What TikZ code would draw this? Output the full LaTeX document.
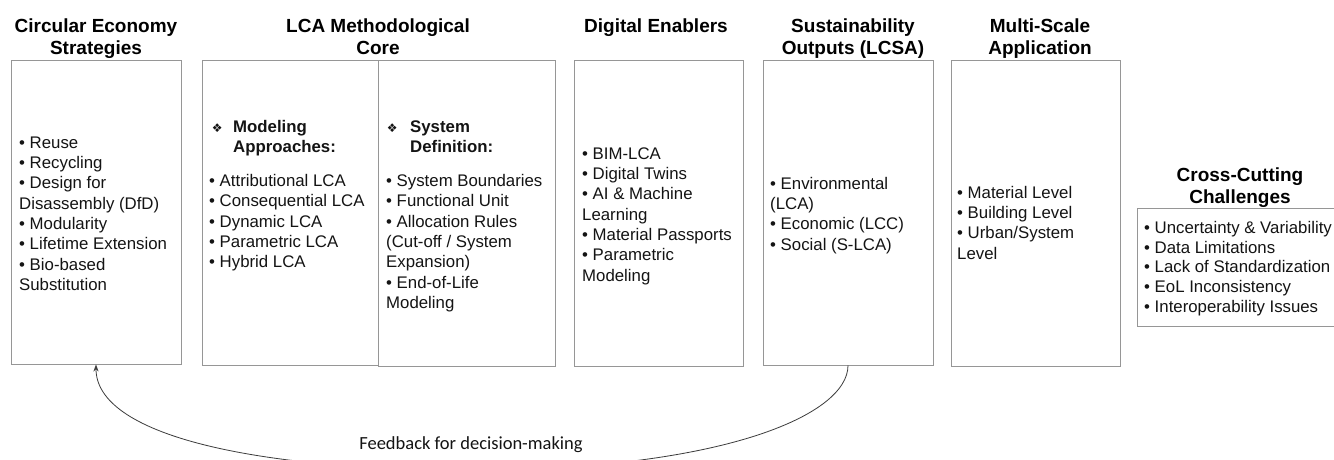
\documentclass[tikz,border=0pt]{standalone}
\usepackage{fontspec}
\setmainfont{Liberation Sans}
\newfontfamily\carlito{Carlito}
\newfontfamily\dejavu{DejaVu Sans}
\usetikzlibrary{arrows.meta}
\definecolor{boxgray}{RGB}{150,150,150}
\definecolor{txt}{RGB}{20,20,20}
\definecolor{arr}{RGB}{60,60,60}
\newcommand\bodystrut{\rule{0pt}{12pt}}
\newcommand\titlestrut{\rule{0pt}{14pt}}
\newcommand\dia{{\dejavu\fontsize{12}{12}\selectfont ❖}}
\tikzset{
 panel/.style={draw=boxgray, line width=0.9pt, inner sep=0pt},
 title/.style={font=\fontsize{19}{22}\selectfont\bfseries, align=center, anchor=north, inner sep=0pt},
 items/.style={font=\fontsize{16.8}{20.3}\selectfont, align=left, anchor=north west, inner sep=0pt, text=txt},
 citems/.style={items, font=\fontsize{16.8}{19.8}\selectfont},
 fb/.style={draw=arr, line width=0.8pt, -{Stealth[length=7pt,width=5pt]}},
 fbl/.style={font=\carlito\fontsize{18.5}{20}\selectfont, inner sep=0pt, text=txt},
}
\begin{document}
\begin{tikzpicture}[x=1pt,y=-1pt]
\useasboundingbox (0,0) rectangle (1334,460);
\clip (0,0) rectangle (1334,460);
\fill[white] (0,0) rectangle (1334,460);

% panels
\node[panel, minimum width=170pt, minimum height=304pt] (b1) at (96,212) {};
\node[panel, minimum width=176pt, minimum height=305pt] (b2a) at (290,212.5) {};
\node[panel, minimum width=177pt, minimum height=306pt] (b2b) at (466.5,213) {};
\node[panel, minimum width=169pt, minimum height=306pt] (b3) at (658.5,213) {};
\node[panel, minimum width=170pt, minimum height=305pt] (b4) at (848,212.5) {};
\node[panel, minimum width=169pt, minimum height=306pt] (b5) at (1035.5,213) {};
\node[panel, minimum width=208pt, minimum height=118pt] (b6) at (1241,267) {};

% titles
\node[title] (t1) at (96,18) {\titlestrut Circular Economy\\Strategies};
\node[title] (t2) at (378,18) {\titlestrut LCA Methodological\\Core};
\node[title] (t3) at (656,18) {\titlestrut Digital Enablers};
\node[title] (t4) at (853,18) {\titlestrut Sustainability\\Outputs (LCSA)};
\node[title] (t5) at (1040,18) {\titlestrut Multi-Scale\\Application};
\node[title] (t6) at (1240,167) {\titlestrut Cross-Cutting\\Challenges};

% contents
\node[items] (i1) at (19,136) {\bodystrut • Reuse\\• Recycling\\• Design for\\Disassembly (DfD)\\• Modularity\\• Lifetime Extension\\• Bio-based\\Substitution};
\node[items] (i2) at (209,120) {\bodystrut\makebox[16pt]{\dia}\hspace{8pt}\textbf{Modeling}\\\hspace{24pt}\textbf{Approaches:}\\[13.7pt]• Attributional LCA\\• Consequential LCA\\• Dynamic LCA\\• Parametric LCA\\• Hybrid LCA};
\node[items] (i3) at (386,120) {\bodystrut\makebox[12pt]{\dia}\hspace{12pt}\textbf{System}\\\hspace{24pt}\textbf{Definition:}\\[13.7pt]• System Boundaries\\• Functional Unit\\• Allocation Rules\\(Cut-off / System\\Expansion)\\• End-of-Life\\Modeling};
\node[items] (i4) at (582,147) {\bodystrut • BIM-LCA\\• Digital Twins\\• AI \& Machine\\Learning\\• Material Passports\\• Parametric\\Modeling};
\node[items] (i5) at (770,177) {\bodystrut • Environmental\\(LCA)\\• Economic (LCC)\\• Social (S-LCA)};
\node[items] (i6) at (957,186) {\bodystrut • Material Level\\• Building Level\\• Urban/System\\Level};
\node[citems] (i7) at (1144,221) {\bodystrut • Uncertainty \& Variability\\• Data Limitations\\• Lack of Standardization\\• EoL Inconsistency\\• Interoperability Issues};

% feedback loop
\coordinate (bot) at (471,470);
\node[fbl] (fbt) at (471,445) {Feedback for decision-making};
\draw[fb] (b4.south) .. controls +(0,50) and +(250,0) .. (bot) .. controls +(-220,0) and +(0,70) .. (b1.south);
\end{tikzpicture}
\end{document}
